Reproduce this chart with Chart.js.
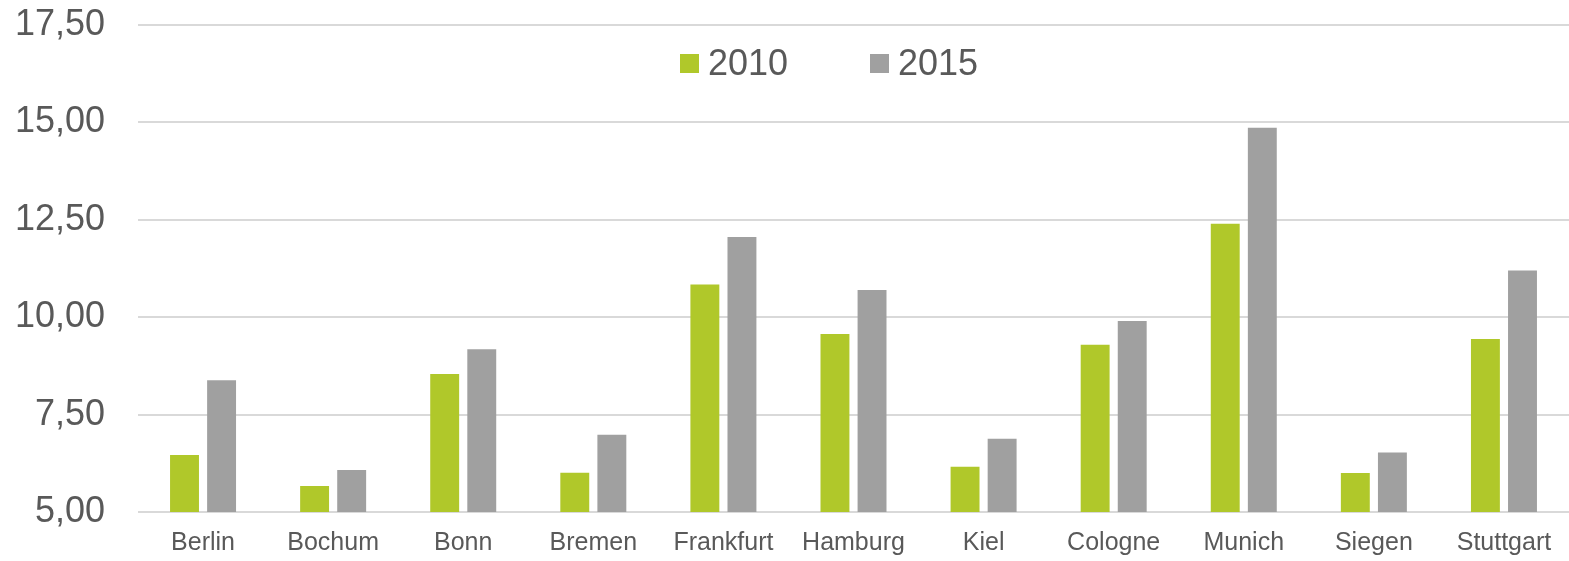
<!DOCTYPE html>
<html>
<head>
<meta charset="utf-8">
<script src="https://cdn.jsdelivr.net/npm/chart.js@4"></script>
<style>
    html, body { margin: 0; padding: 0; background: #fff; }
    #wrap { width: 1569px; height: 561px; }
</style>
</head>
<body>
<div id="wrap"><canvas id="cityChart"></canvas></div>
<script>
// data
var cities = ["Berlin", "Bochum", "Bonn", "Bremen", "Frankfurt", "Hamburg", "Kiel", "Cologne", "Munich", "Siegen", "Stuttgart"];
var seriesNames = ["2010", "2015"];
var values2010 = [6.46, 5.67, 8.54, 6.01, 10.84, 9.57, 6.16, 9.29, 12.40, 6.00, 9.44];
var values2015 = [8.38, 6.08, 9.18, 6.98, 12.06, 10.70, 6.88, 9.90, 14.86, 6.53, 11.20];
var yTicks = [5, 7.5, 10, 12.5, 15, 17.5];

var textColor = '#595959';
var fontName = '"Liberation Sans", Arial, sans-serif';

// legend drawn inside the plot, like the original
var innerLegend = {
    id: 'innerLegend',
    afterDraw: function (chart) {
        var ctx = chart.ctx;
        var x = 680;
        var y = 64;
        ctx.save();
        ctx.font = '36px ' + fontName;
        ctx.textBaseline = 'middle';
        ctx.textAlign = 'left';
        chart.data.datasets.forEach(function (ds) {
            ctx.fillStyle = ds.backgroundColor;
            ctx.fillRect(x, y - 10, 19, 19);
            ctx.fillStyle = textColor;
            ctx.fillText(ds.label, x + 28, y + 1);
            x += 190;
        });
        ctx.restore();
    }
};

var ctx = document.getElementById('cityChart');
var myChart = new Chart(ctx, {
    type: 'bar',
    data: {
        labels: cities,
        datasets: [{
            label: seriesNames[0],
            data: values2010,
            backgroundColor: '#B0C82A'
        }, {
            label: seriesNames[1],
            data: values2015,
            backgroundColor: '#A0A0A0'
        }]
    },
    options: {
        responsive: true,
        maintainAspectRatio: false,
        animation: false,
        layout: { padding: { top: 25, bottom: 3, right: 0, left: 0 } },
        datasets: {
            bar: { categoryPercentage: 0.57, barPercentage: 0.78 }
        },
        plugins: {
            legend: { display: false },
            tooltip: { enabled: false }
        },
        scales: {
            x: {
                afterFit: function (scale) {
                    scale.height = 46;
                },
                grid: { display: false, drawTicks: false },
                border: { display: false },
                ticks: {
                    color: textColor,
                    font: { family: fontName, size: 25 },
                    padding: 16,
                    maxRotation: 0,
                    autoSkip: false
                }
            },
            y: {
                min: 5,
                max: 17.5,
                afterBuildTicks: function (scale) {
                    scale.ticks = yTicks.map(function (v) { return { value: v }; });
                },
                afterFit: function (scale) {
                    scale.width = 138;
                    // tick padding should not push the plot down
                    scale.paddingTop = 0;
                    scale.paddingBottom = 0;
                },
                grid: { color: '#D9D9D9', lineWidth: 2, drawTicks: false },
                border: { display: false },
                ticks: {
                    color: textColor,
                    font: { family: fontName, size: 36 },
                    padding: 33,
                    callback: function (v) {
                        return Number(v).toFixed(2).replace('.', ',');
                    }
                }
            }
        }
    },
    plugins: [innerLegend]
});
</script>
</body>
</html>
